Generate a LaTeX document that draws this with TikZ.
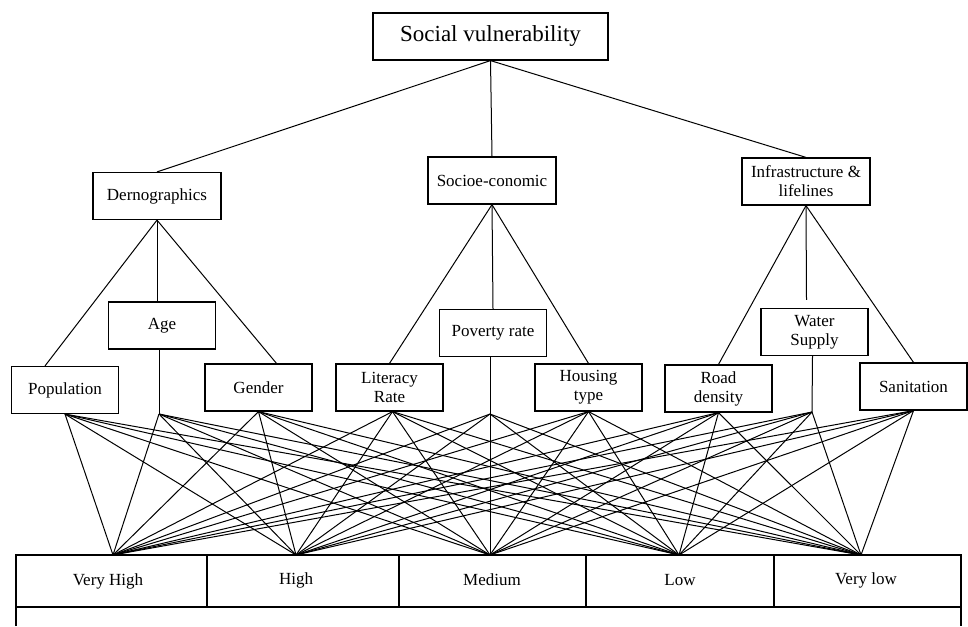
\documentclass[tikz,border=0pt]{standalone}
\usepackage{fontspec}
\setmainfont{Liberation Serif}
\begin{document}
\begin{tikzpicture}[x=1pt,y=-1pt,line width=1pt,
  box/.style={draw,line width=1.2pt,align=center,minimum width=107pt,minimum height=47pt,inner sep=2pt,font=\fontsize{17}{19}\selectfont},
  group/.style={box,minimum width=128pt},
  lvl/.style={font=\fontsize{17}{19}\selectfont}]
\useasboundingbox (0,0) rectangle (968,626);

\node[box,minimum width=235pt,font=\fontsize{23}{26}\selectfont] (sv) at (490.5,36.5) {Social vulnerability};

\node[group] (dem) at (157,196) {Dernographics};
\node[group] (soc) at (492,180.5) {Socioe-conomic};
\node[group] (inf) at (806,181.5) {Infrastructure \&\\lifelines};

\node[box] (pop) at (65,390) {Population};
\node[box] (age) at (162,325.5) {Age};
\node[box] (gen) at (258.5,387.5) {Gender};
\node[box] (lit) at (389.5,387.5) {Literacy\\Rate};
\node[box] (pov) at (493,333) {Poverty rate};
\node[box] (hou) at (588.5,387.5) {Housing\\type};
\node[box] (road) at (718.5,388.5) {Road\\density};
\node[box] (wat) at (814.5,332) {Water\\Supply};
\node[box] (san) at (913.5,386.5) {Sanitation};

\draw (sv.south) -- (dem.north);
\draw (sv.south) -- (soc.north);
\draw (sv.south) -- (inf.north);

\draw (dem.south) -- ([xshift=-20pt]pop.north);
\draw (dem.south) -- ([xshift=-5pt]age.north);
\draw (dem.south) -- ([xshift=18pt]gen.north);
\draw (soc.south) -- (lit.north);
\draw (soc.south) -- (pov.north);
\draw (soc.south) -- (hou.north);
\draw (inf.south) -- (road.north);
\draw (inf.south) -- ([xshift=-8pt,yshift=8pt]wat.north);
\draw (inf.south) -- (san.north);

\coordinate (fpop) at (pop.south);
\coordinate (fage) at (159,414);
\coordinate (fgen) at (gen.south);
\coordinate (flit) at ([xshift=3pt]lit.south);
\coordinate (fpov) at (490,414);
\coordinate (fhou) at (hou.south);
\coordinate (froad) at (road.south);
\coordinate (fwat) at (812,412);
\coordinate (fsan) at (san.south);
\draw ([xshift=-3pt]age.south) -- (fage);
\draw ([xshift=-3pt]pov.south) -- (fpov);
\draw ([xshift=-2pt]wat.south) -- (fwat);

\foreach \n/\x in {tvh/113,thi/296,tme/490,tlo/679,tvl/861}
  \coordinate (\n) at (\x,555);

\foreach \s in {fpop,fage,fgen,flit,fpov,fhou,froad,fwat,fsan}
  \foreach \t in {tvh,thi,tme,tlo,tvl}
    \draw (\s) -- (\t);

\draw[line width=1.2pt] (16,626) -- (16,555) -- (961,555) -- (961,626);
\draw[line width=1.2pt] (16,607) -- (961,607);
\foreach \x in {207,399,586,774}
  \draw[line width=1.2pt] (\x,555) -- (\x,607);

\node[lvl] (vh) at (108,581) {Very High};
\node[lvl] (hi) at (296,580) {High};
\node[lvl] (me) at (492,580) {Medium};
\node[lvl] (lo) at (680,580) {Low};
\node[lvl] (vl) at (866,580) {Very low};

\end{tikzpicture}
\end{document}
